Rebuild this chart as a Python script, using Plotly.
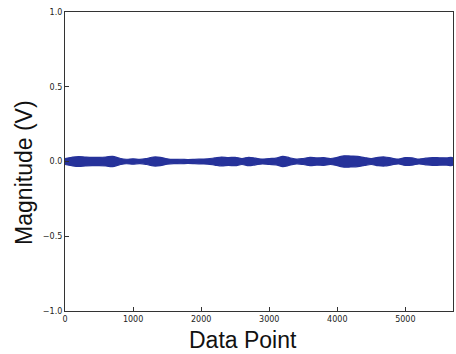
import plotly.graph_objects as go

# Envelope of the signal (half-thickness in V)
x_points = [0, 100, 200, 300, 400, 500, 600, 700, 800, 900, 1000, 1100, 1200, 1300, 1400,
            1500, 1600, 1700, 1800, 1900, 2000, 2100, 2200, 2300, 2400, 2500, 2600, 2700,
            2800, 2900, 3000, 3100, 3200, 3300, 3400, 3500, 3600, 3700, 3800, 3900, 4000,
            4100, 4200, 4300, 4400, 4500, 4600, 4700, 4800, 4900, 5000, 5100, 5200, 5300,
            5400, 5500, 5600, 5700]
upper_env = [0.020, 0.028, 0.033, 0.030, 0.028, 0.028, 0.030, 0.034, 0.022, 0.015, 0.018,
             0.014, 0.020, 0.030, 0.028, 0.018, 0.014, 0.015, 0.013, 0.014, 0.016, 0.018,
             0.024, 0.030, 0.026, 0.028, 0.020, 0.028, 0.022, 0.016, 0.020, 0.022, 0.034,
             0.025, 0.016, 0.020, 0.028, 0.024, 0.026, 0.020, 0.028, 0.038, 0.036, 0.034,
             0.026, 0.020, 0.028, 0.030, 0.022, 0.016, 0.026, 0.024, 0.016, 0.022, 0.026,
             0.025, 0.024, 0.024]
lower_env = [-v for v in upper_env]

x_ticks = [0, 1000, 2000, 3000, 4000, 5000]
y_ticks = [-1.0, -0.5, 0.0, 0.5, 1.0]

x_title = "Data Point"
y_title = "Magnitude (V)"

color = "#26329a"

fig = go.Figure()
fig.add_trace(go.Scatter(
    x=x_points + x_points[::-1],
    y=upper_env + lower_env[::-1],
    fill="toself", fillcolor=color,
    line=dict(color=color, width=1.2, shape="spline"),
    mode="lines", hoverinfo="skip", showlegend=False,
))

axis_common = dict(
    showgrid=False, zeroline=False, showline=True, linecolor="#333333", linewidth=1.2,
    mirror=True, ticks="inside", ticklen=4, tickcolor="#333333", automargin=False,
    tickfont=dict(family="DejaVu Sans", size=8, color="#222222"),
)

fig.update_layout(
    width=456, height=354,
    margin=dict(l=65, r=3, t=12, b=43),
    paper_bgcolor="white", plot_bgcolor="white",
    xaxis=dict(range=[0, 5700], tickvals=x_ticks, ticktext=[str(v) for v in x_ticks],
               **axis_common),
    yaxis=dict(range=[-1.0, 1.0], tickvals=y_ticks, tickformat=".1f", **axis_common),
    annotations=[
        dict(text=x_title, xref="paper", yref="paper", x=0.459, y=-0.097,
             xanchor="center", yanchor="middle", showarrow=False,
             font=dict(family="Liberation Sans", size=23, color="#111111")),
        dict(text=y_title, xref="paper", yref="paper", x=-0.106, y=0.4615,
             xanchor="center", yanchor="middle", showarrow=False, textangle=-90,
             font=dict(family="Liberation Sans", size=23, color="#111111")),
    ],
)

fig.write_html("out.html", config={"displayModeBar": False},
               post_script="document.body.style.margin='0';document.body.style.overflow='hidden';")
